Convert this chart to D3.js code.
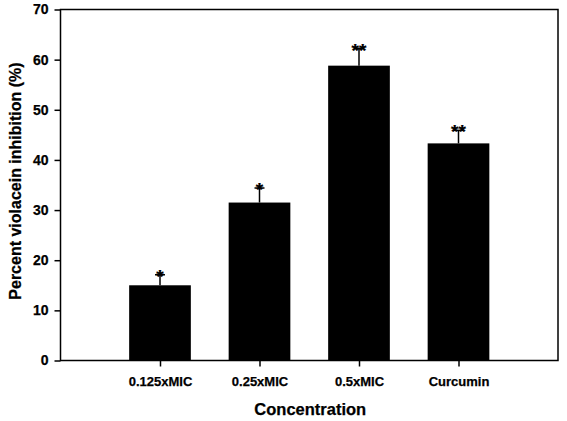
<!DOCTYPE html>
<html>
<head>
<meta charset="utf-8">
<script src="https://cdn.jsdelivr.net/npm/d3@7"></script>
<style>
body { margin: 0; background: #fff; }
text { font-family: Arial, "Liberation Sans", sans-serif; font-weight: bold; fill: #000; stroke: #000; stroke-width: 0.25px; }
</style>
</head>
<body>
<div id="chart"></div>
<script>
// data
var categories = ['0.125xMIC', '0.25xMIC', '0.5xMIC', 'Curcumin'];
var values = [15.0, 31.5, 58.8, 43.3];
var errors = [2.1, 2.9, 3.4, 2.6];
var stars = ['*', '*', '**', '**'];
var yTicks = [0, 10, 20, 30, 40, 50, 60, 70];

var width = 567, height = 421;
var mLeft = 60.5, mRight = 558, mTop = 9.5, mBottom = 360.5;

var svg = d3.select('#chart').append('svg')
	.attr('width', width)
	.attr('height', height);

// bars sit at 1..4 on a 0..5 axis
var x = d3.scaleLinear().domain([0, 5]).range([mLeft, mRight]);
var y = d3.scaleLinear().domain([0, 70]).range([mBottom, mTop]);
var barW = 0.62;

var data = categories.map(function(c, i){
	return {cat: c, pos: i + 1, val: values[i], err: errors[i], star: stars[i]};
});

// error bars (upper only)
svg.selectAll('.err').data(data)
	.enter().append('line').classed('err', true)
		.attr('x1', function(d){ return x(d.pos); })
		.attr('x2', function(d){ return x(d.pos); })
		.attr('y1', function(d){ return y(d.val); })
		.attr('y2', function(d){ return y(d.val + d.err); })
		.style('stroke', '#000')
		.style('stroke-width', 1.5);

svg.selectAll('.cap').data(data)
	.enter().append('line').classed('cap', true)
		.attr('x1', function(d){ return x(d.pos) - 5; })
		.attr('x2', function(d){ return x(d.pos) + 5; })
		.attr('y1', function(d){ return y(d.val + d.err); })
		.attr('y2', function(d){ return y(d.val + d.err); })
		.style('stroke', '#000')
		.style('stroke-width', 1.5);

svg.selectAll('.bar').data(data)
	.enter().append('rect').classed('bar', true)
		.attr('x', function(d){ return x(d.pos - barW / 2); })
		.attr('y', function(d){ return y(d.val); })
		.attr('width', function(d){ return x(barW) - x(0); })
		.attr('height', function(d){ return y(0) - y(d.val); })
		.style('fill', '#000');

// significance marks
svg.selectAll('.star').data(data)
	.enter().append('text').classed('star', true)
		.attr('x', function(d){ return x(d.pos); })
		.attr('y', function(d){ return y(d.val + d.err) + 8; })
		.attr('text-anchor', 'middle')
		.style('font-size', '19px')
		.text(function(d){ return d.star; });

// frame
svg.append('rect')
	.attr('x', mLeft).attr('y', mTop)
	.attr('width', mRight - mLeft).attr('height', mBottom - mTop)
	.style('fill', 'none')
	.style('stroke', '#000')
	.style('stroke-width', 1.5);

// y axis
var yAxis = svg.append('g')
	.attr('transform', 'translate(' + mLeft + ',0)')
	.call(d3.axisLeft(y).tickValues(yTicks).tickSize(6).tickPadding(6).tickFormat(d3.format('d')));
yAxis.select('.domain').remove();
yAxis.selectAll('line').style('stroke', '#000').style('stroke-width', 1.5);
yAxis.selectAll('text').style('font-size', '14px').style('font-family', 'Arial, "Liberation Sans", sans-serif');

// x axis
var xAxis = svg.append('g')
	.attr('transform', 'translate(0,' + mBottom + ')')
	.call(d3.axisBottom(x).tickValues(data.map(function(d){ return d.pos; }))
		.tickSize(6).tickPadding(10)
		.tickFormat(function(v){ return categories[v - 1]; }));
xAxis.select('.domain').remove();
xAxis.selectAll('line').style('stroke', '#000').style('stroke-width', 1.5);
xAxis.selectAll('text').style('font-size', '13px').style('font-family', 'Arial, "Liberation Sans", sans-serif');

// titles
svg.append('text')
	.attr('x', (mLeft + mRight) / 2 + 1)
	.attr('y', 415)
	.attr('text-anchor', 'middle')
	.style('font-size', '16.5px')
	.text('Concentration');

svg.append('text')
	.attr('transform', 'translate(21,181) rotate(-90)')
	.attr('text-anchor', 'middle')
	.style('font-size', '16px')
	.text('Percent violacein inhibition (%)');
</script>
</body>
</html>
